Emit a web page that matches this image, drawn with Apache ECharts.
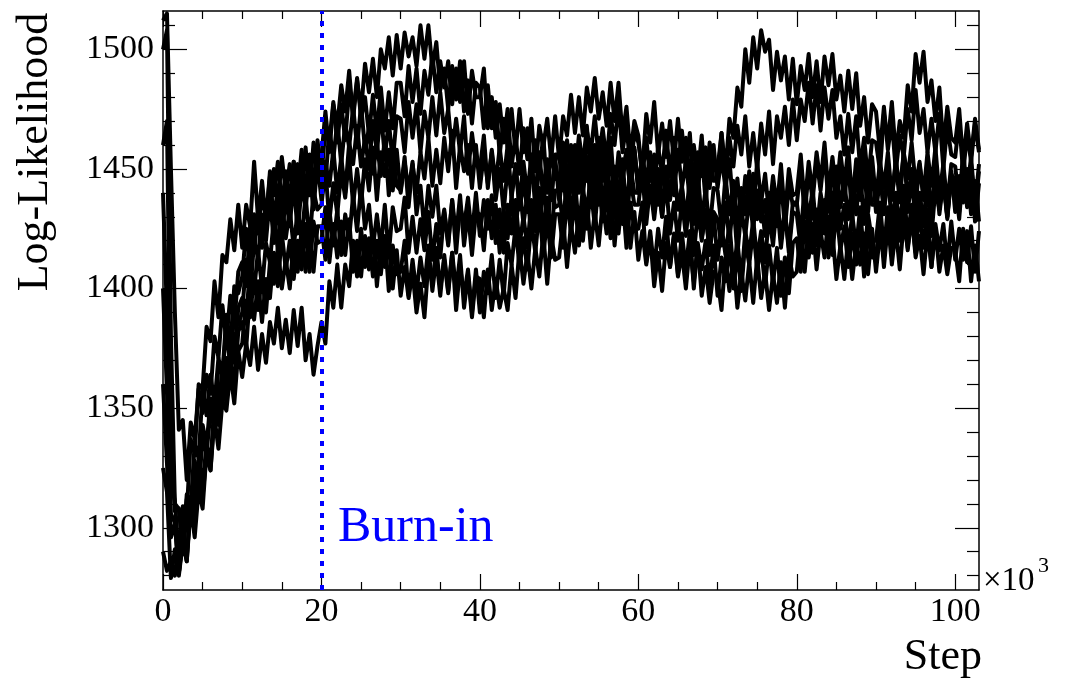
<!DOCTYPE html>
<html>
<head>
<meta charset="utf-8">
<title>Log-Likelihood trace</title>
<script src="https://cdn.jsdelivr.net/npm/echarts@6/dist/echarts.min.js"></script>
<style>
  html, body { margin: 0; padding: 0; background: #fff; }
  #chart { width: 1067px; height: 683px; }
</style>
</head>
<body>
<div id="chart"></div>
<script>
// trace samples every 0.5 x10^3 steps
const stepSize = 0.5
const burnIn = 20

const chain1 = [
  1512, 1515, 1450, 1390, 1341, 1345, 1320, 1344, 1337, 1358, 1348, 1364, 1356, 1380, 1371, 1393, 1378, 1397, 1385, 1407,
  1411, 1401, 1426, 1415, 1433, 1417, 1436, 1429, 1450, 1435, 1455, 1440, 1452, 1436, 1452, 1441, 1459, 1439, 1461, 1453,
  1455, 1474, 1457, 1477, 1468, 1485, 1474, 1491, 1471, 1487, 1474, 1494, 1482, 1496, 1480, 1500, 1492, 1505, 1489, 1506,
  1492, 1507, 1497, 1505, 1493, 1510, 1496, 1510, 1492, 1503, 1483, 1492, 1475, 1493, 1479, 1495, 1474, 1487, 1469, 1486,
  1484, 1467, 1485, 1467, 1478, 1456, 1471, 1459, 1475, 1457, 1475, 1457, 1467, 1448, 1462, 1448, 1464, 1440, 1458, 1446,
  1445, 1461, 1441, 1459, 1447, 1464, 1451, 1468, 1447, 1460, 1445, 1462, 1447, 1463, 1439, 1457, 1447, 1458, 1441, 1458,
  1440, 1454, 1442, 1455, 1435, 1448, 1430, 1449, 1437, 1451, 1433, 1443, 1428, 1447, 1432, 1449, 1428, 1442, 1424, 1442,
  1441, 1426, 1447, 1431, 1445, 1425, 1442, 1431, 1449, 1433, 1453, 1436, 1448, 1431, 1447, 1434, 1452, 1430, 1450, 1439,
  1440, 1456, 1435, 1453, 1440, 1457, 1444, 1461, 1440, 1455, 1440, 1457, 1443, 1459, 1436, 1454, 1444, 1455, 1438, 1455,
  1437, 1453, 1442, 1457, 1438, 1453, 1436, 1457, 1446, 1461, 1443, 1453, 1439, 1457, 1443, 1459, 1439, 1452, 1435, 1452,
  1451, 1436, 1457, 1441, 1455, 1435, 1452
]
const chain2 = [
  1460, 1470, 1344, 1307, 1308, 1292, 1312, 1306, 1328, 1318, 1343, 1334, 1354, 1345, 1368, 1364, 1389, 1375, 1401, 1398,
  1405, 1425, 1409, 1431, 1423, 1440, 1429, 1447, 1428, 1443, 1430, 1449, 1436, 1453, 1431, 1451, 1442, 1456, 1442, 1462,
  1447, 1467, 1461, 1478, 1461, 1477, 1462, 1483, 1473, 1488, 1471, 1480, 1464, 1481, 1465, 1484, 1466, 1482, 1467, 1486,
  1486, 1472, 1493, 1478, 1492, 1473, 1491, 1481, 1498, 1482, 1495, 1484, 1495, 1477, 1492, 1478, 1495, 1473, 1491, 1480,
  1480, 1492, 1467, 1480, 1463, 1477, 1461, 1475, 1451, 1464, 1448, 1467, 1454, 1471, 1449, 1468, 1459, 1471, 1454, 1472,
  1454, 1472, 1464, 1481, 1465, 1480, 1464, 1484, 1474, 1488, 1471, 1482, 1468, 1486, 1470, 1486, 1464, 1476, 1456, 1470,
  1464, 1446, 1463, 1445, 1456, 1435, 1450, 1438, 1455, 1439, 1458, 1442, 1453, 1437, 1452, 1440, 1457, 1436, 1456, 1445,
  1445, 1465, 1449, 1471, 1463, 1484, 1476, 1500, 1486, 1505, 1492, 1508, 1499, 1504, 1483, 1499, 1487, 1497, 1479, 1496,
  1477, 1493, 1483, 1498, 1480, 1495, 1478, 1497, 1485, 1498, 1479, 1489, 1474, 1491, 1475, 1490, 1468, 1480, 1461, 1477,
  1474, 1457, 1476, 1458, 1470, 1449, 1464, 1455, 1475, 1462, 1483, 1465, 1475, 1457, 1471, 1457, 1473, 1450, 1468, 1456,
  1455, 1470, 1448, 1465, 1453, 1469, 1457
]
const chain3 = [
  1325, 1315, 1279, 1291, 1280, 1294, 1286, 1309, 1296, 1316, 1308, 1332, 1324, 1346, 1333, 1353, 1349, 1365, 1352, 1374,
  1363, 1377, 1368, 1384, 1366, 1381, 1369, 1386, 1377, 1392, 1375, 1387, 1373, 1391, 1376, 1392, 1370, 1381, 1364, 1376,
  1386, 1377, 1403, 1392, 1410, 1392, 1410, 1401, 1420, 1405, 1425, 1409, 1421, 1405, 1420, 1406, 1422, 1399, 1418, 1406,
  1407, 1420, 1397, 1412, 1398, 1413, 1401, 1418, 1399, 1413, 1397, 1414, 1399, 1415, 1391, 1409, 1397, 1408, 1390, 1408,
  1390, 1407, 1398, 1414, 1396, 1412, 1397, 1419, 1410, 1426, 1409, 1421, 1408, 1428, 1415, 1433, 1414, 1429, 1413, 1431,
  1431, 1417, 1438, 1423, 1437, 1418, 1435, 1425, 1442, 1426, 1445, 1428, 1439, 1421, 1436, 1423, 1439, 1417, 1436, 1425,
  1425, 1436, 1411, 1424, 1408, 1425, 1413, 1430, 1409, 1422, 1406, 1423, 1408, 1424, 1400, 1419, 1408, 1420, 1402, 1418,
  1397, 1413, 1403, 1418, 1400, 1415, 1399, 1420, 1410, 1425, 1408, 1417, 1401, 1418, 1402, 1417, 1397, 1413, 1398, 1419,
  1421, 1407, 1428, 1413, 1427, 1408, 1424, 1413, 1430, 1414, 1433, 1416, 1426, 1409, 1423, 1410, 1427, 1405, 1424, 1413,
  1413, 1429, 1409, 1427, 1415, 1432, 1420, 1436, 1416, 1430, 1415, 1432, 1417, 1433, 1409, 1427, 1416, 1427, 1410, 1428,
  1412, 1425, 1412, 1424, 1403, 1418, 1403
]
const chain4 = [
  1400, 1357, 1306, 1302, 1281, 1295, 1286, 1313, 1309, 1329, 1318, 1335, 1327, 1352, 1345, 1369, 1356, 1378, 1369, 1392,
  1396, 1386, 1411, 1399, 1416, 1400, 1419, 1411, 1430, 1416, 1437, 1421, 1433, 1417, 1433, 1421, 1439, 1419, 1441, 1433,
  1435, 1450, 1428, 1444, 1431, 1449, 1438, 1455, 1435, 1450, 1435, 1454, 1441, 1459, 1437, 1457, 1447, 1458, 1441, 1458,
  1440, 1453, 1441, 1453, 1431, 1443, 1424, 1443, 1430, 1443, 1423, 1433, 1418, 1437, 1422, 1439, 1418, 1432, 1414, 1432,
  1431, 1416, 1437, 1421, 1435, 1415, 1432, 1421, 1439, 1423, 1443, 1427, 1439, 1423, 1439, 1427, 1445, 1424, 1444, 1434,
  1435, 1450, 1430, 1447, 1435, 1451, 1439, 1455, 1435, 1449, 1435, 1453, 1440, 1457, 1435, 1454, 1445, 1457, 1441, 1459,
  1442, 1456, 1444, 1457, 1437, 1450, 1432, 1451, 1439, 1452, 1433, 1442, 1426, 1443, 1427, 1442, 1420, 1433, 1415, 1432,
  1429, 1418, 1436, 1420, 1437, 1414, 1433, 1422, 1438, 1425, 1441, 1428, 1437, 1424, 1440, 1426, 1446, 1425, 1443, 1435,
  1435, 1451, 1431, 1449, 1437, 1454, 1441, 1457, 1436, 1450, 1435, 1452, 1437, 1453, 1429, 1447, 1437, 1449, 1432, 1450,
  1432, 1446, 1434, 1447, 1427, 1440, 1423, 1443, 1432, 1446, 1428, 1440, 1427, 1446, 1433, 1450, 1431, 1445, 1429, 1447,
  1446, 1432, 1453, 1438, 1452, 1433, 1449
]
const chain5 = [
  1500, 1508, 1380, 1310, 1308, 1291, 1314, 1309, 1335, 1329, 1358, 1347, 1364, 1352, 1371, 1363, 1384, 1367, 1391, 1385,
  1390, 1412, 1397, 1420, 1413, 1431, 1420, 1438, 1419, 1434, 1420, 1439, 1426, 1445, 1423, 1443, 1434, 1448, 1433, 1453,
  1437, 1453, 1443, 1458, 1440, 1455, 1440, 1461, 1452, 1468, 1451, 1463, 1450, 1470, 1457, 1474, 1455, 1470, 1453, 1472,
  1471, 1457, 1478, 1463, 1477, 1457, 1474, 1463, 1480, 1464, 1482, 1465, 1475, 1457, 1471, 1457, 1472, 1448, 1465, 1452,
  1450, 1464, 1442, 1458, 1444, 1459, 1445, 1460, 1438, 1451, 1436, 1453, 1439, 1456, 1433, 1452, 1442, 1454, 1437, 1455,
  1437, 1454, 1444, 1460, 1443, 1459, 1444, 1466, 1457, 1472, 1455, 1467, 1453, 1473, 1460, 1477, 1457, 1469, 1449, 1465,
  1461, 1449, 1473, 1461, 1478, 1456, 1469, 1455, 1470, 1453, 1471, 1453, 1463, 1446, 1460, 1447, 1464, 1442, 1461, 1450,
  1450, 1465, 1445, 1463, 1451, 1468, 1456, 1472, 1451, 1465, 1450, 1469, 1456, 1474, 1452, 1472, 1463, 1476, 1460, 1479,
  1462, 1479, 1470, 1486, 1469, 1485, 1466, 1484, 1471, 1483, 1463, 1472, 1456, 1473, 1457, 1472, 1450, 1463, 1445, 1462,
  1461, 1449, 1473, 1461, 1478, 1456, 1470, 1463, 1485, 1474, 1498, 1486, 1499, 1478, 1487, 1470, 1484, 1459, 1476, 1463,
  1461, 1475, 1453, 1469, 1455, 1471, 1458
]
const chain6 = [
  1360, 1327, 1296, 1302, 1281, 1297, 1288, 1309, 1305, 1325, 1313, 1331, 1324, 1350, 1343, 1366, 1352, 1371, 1359, 1382,
  1386, 1375, 1399, 1387, 1403, 1386, 1404, 1396, 1415, 1401, 1423, 1408, 1420, 1404, 1420, 1408, 1427, 1407, 1428, 1419,
  1420, 1434, 1411, 1427, 1413, 1428, 1414, 1429, 1407, 1420, 1405, 1422, 1408, 1424, 1401, 1419, 1409, 1419, 1400, 1416,
  1397, 1409, 1396, 1407, 1390, 1402, 1388, 1411, 1402, 1417, 1400, 1412, 1398, 1415, 1399, 1414, 1392, 1406, 1388, 1405,
  1404, 1388, 1408, 1391, 1404, 1392, 1400, 1391, 1410, 1396, 1417, 1402, 1415, 1400, 1417, 1405, 1423, 1402, 1422, 1412,
  1413, 1429, 1409, 1427, 1415, 1432, 1420, 1437, 1417, 1432, 1418, 1436, 1423, 1440, 1418, 1437, 1427, 1437, 1417, 1432,
  1412, 1424, 1410, 1422, 1401, 1415, 1399, 1419, 1409, 1423, 1405, 1415, 1400, 1418, 1403, 1418, 1397, 1409, 1394, 1407,
  1404, 1391, 1413, 1399, 1413, 1392, 1407, 1395, 1411, 1394, 1413, 1396, 1407, 1391, 1406, 1394, 1411, 1392, 1414, 1405,
  1407, 1425, 1407, 1426, 1415, 1433, 1421, 1437, 1413, 1423, 1404, 1418, 1404, 1421, 1404, 1419, 1410, 1423, 1406, 1425,
  1407, 1423, 1413, 1428, 1410, 1425, 1408, 1428, 1417, 1431, 1413, 1422, 1406, 1424, 1409, 1425, 1407, 1418, 1406, 1417,
  1416, 1403, 1425, 1411, 1426, 1407, 1424
]
const chain7 = [
  1440, 1390, 1319, 1311, 1288, 1309, 1306, 1337, 1331, 1360, 1358, 1384, 1378, 1403, 1388, 1414, 1411, 1429, 1416, 1435,
  1417, 1435, 1426, 1453, 1429, 1445, 1428, 1449, 1439, 1453, 1436, 1447, 1434, 1453, 1440, 1458, 1439, 1454, 1438, 1457,
  1456, 1444, 1467, 1454, 1470, 1452, 1469, 1459, 1476, 1459, 1477, 1458, 1467, 1448, 1461, 1447, 1463, 1439, 1456, 1443,
  1441, 1455, 1434, 1452, 1440, 1457, 1446, 1463, 1443, 1458, 1444, 1463, 1449, 1466, 1442, 1460, 1449, 1460, 1442, 1460,
  1442, 1456, 1444, 1457, 1437, 1450, 1432, 1451, 1439, 1452, 1433, 1445, 1432, 1452, 1439, 1457, 1438, 1453, 1437, 1456,
  1456, 1441, 1462, 1446, 1460, 1440, 1456, 1445, 1461, 1444, 1463, 1445, 1455, 1437, 1451, 1438, 1454, 1432, 1451, 1440,
  1440, 1456, 1436, 1454, 1442, 1459, 1448, 1466, 1447, 1463, 1450, 1466, 1450, 1465, 1440, 1457, 1447, 1459, 1442, 1460,
  1442, 1455, 1442, 1454, 1433, 1446, 1428, 1447, 1435, 1448, 1429, 1438, 1422, 1440, 1425, 1441, 1420, 1433, 1415, 1432,
  1431, 1417, 1438, 1423, 1437, 1418, 1434, 1423, 1440, 1424, 1443, 1425, 1435, 1417, 1431, 1417, 1434, 1412, 1431, 1420,
  1420, 1436, 1416, 1434, 1422, 1439, 1426, 1442, 1421, 1435, 1420, 1439, 1426, 1444, 1422, 1442, 1433, 1446, 1430, 1449,
  1432, 1447, 1436, 1450, 1431, 1445, 1428
]
const chain8 = [
  1290, 1282, 1286, 1280, 1294, 1289, 1306, 1301, 1322, 1316, 1337, 1331, 1349, 1342, 1360, 1352, 1371, 1362, 1381, 1374,
  1377, 1395, 1388, 1406, 1391, 1406, 1390, 1411, 1402, 1417, 1400, 1412, 1400, 1420, 1407, 1425, 1407, 1422, 1407, 1426,
  1426, 1412, 1433, 1418, 1433, 1414, 1431, 1421, 1439, 1424, 1443, 1425, 1435, 1417, 1431, 1417, 1435, 1414, 1434, 1424,
  1425, 1438, 1415, 1430, 1415, 1429, 1416, 1432, 1412, 1427, 1413, 1432, 1419, 1437, 1415, 1435, 1426, 1438, 1422, 1440,
  1422, 1437, 1425, 1439, 1419, 1433, 1415, 1435, 1423, 1437, 1418, 1430, 1417, 1437, 1424, 1442, 1423, 1438, 1422, 1441,
  1441, 1426, 1447, 1431, 1445, 1425, 1442, 1431, 1449, 1433, 1453, 1436, 1447, 1430, 1445, 1432, 1449, 1427, 1446, 1435,
  1435, 1449, 1427, 1443, 1429, 1444, 1430, 1445, 1423, 1436, 1420, 1437, 1422, 1438, 1414, 1432, 1421, 1432, 1414, 1431,
  1412, 1426, 1414, 1427, 1407, 1420, 1403, 1424, 1414, 1429, 1412, 1424, 1411, 1431, 1418, 1436, 1417, 1432, 1417, 1436,
  1436, 1422, 1443, 1428, 1442, 1423, 1440, 1430, 1447, 1432, 1451, 1434, 1445, 1429, 1444, 1431, 1449, 1427, 1446, 1435,
  1435, 1451, 1431, 1449, 1437, 1454, 1441, 1457, 1436, 1450, 1435, 1452, 1437, 1453, 1429, 1447, 1436, 1447, 1430, 1448,
  1444, 1429, 1450, 1434, 1448, 1428, 1444
]
const chains = [chain1, chain2, chain3, chain4, chain5, chain6, chain7, chain8]

const xMajor = [0, 20, 40, 60, 80, 100]
const xMinor = [5, 10, 15, 25, 30, 35, 45, 50, 55, 65, 70, 75, 85, 90, 95]
const yMajor = [1300, 1350, 1400, 1450, 1500]
const yMinor = [1280, 1290, 1310, 1320, 1330, 1340, 1360, 1370, 1380, 1390,
  1410, 1420, 1430, 1440, 1460, 1470, 1480, 1490, 1510]

const FONT = "'Liberation Serif', 'Times New Roman', serif"
const xRange = { min: 0, max: 103 }
const yRange = { min: 1274, max: 1516 }

const chart = echarts.init(document.getElementById('chart'))

// ROOT style frame: ticks on all four sides, pointing inwards
const tickAxis = (range, position, ticks, len, opts = {}) => ({
  type: 'value',
  position,
  ...range,
  splitLine: { show: false },
  axisLine: { show: !!opts.line, onZero: false, lineStyle: { color: '#000', width: 1.5 } },
  axisTick: { show: true, inside: true, length: len, customValues: ticks, lineStyle: { color: '#000', width: 1.2 } },
  axisLabel: opts.label
    ? { show: true, customValues: ticks, margin: opts.margin, fontSize: 34, fontFamily: FONT, color: '#000',
        formatter: (v) => String(v) }
    : { show: false },
})

// thick strokes so the dense traces merge into a solid band like the original
const series = chains.map((c) => ({
  type: 'line',
  data: c.map((v, i) => [i * stepSize, v]),
  showSymbol: false,
  symbol: 'none',
  silent: true,
  lineStyle: { color: '#000', width: 4, join: 'round' },
}))

series.push({
  type: 'line',
  data: [],
  z: 5,
  markLine: {
    silent: true,
    symbol: ['none', 'none'],
    label: { show: false },
    lineStyle: { color: '#0000ff', width: 4, type: [5, 7], cap: 'butt' },
    data: [{ xAxis: burnIn }],
  },
})

chart.setOption({
  animation: false,
  backgroundColor: '#fff',
  grid: { left: 163, right: 88, top: 11, bottom: 93 },
  xAxis: [
    tickAxis(xRange, 'bottom', xMajor, 16, { line: true, label: true, margin: 5 }),
    tickAxis(xRange, 'bottom', xMinor, 8),
    tickAxis(xRange, 'top', xMajor, 16, { line: true }),
    tickAxis(xRange, 'top', xMinor, 8),
  ],
  yAxis: [
    tickAxis(yRange, 'left', yMajor, 24, { line: true, label: true, margin: 9 }),
    tickAxis(yRange, 'left', yMinor, 12),
    tickAxis(yRange, 'right', yMajor, 24, { line: true }),
    tickAxis(yRange, 'right', yMinor, 12),
  ],
  series,
  graphic: [
    {
      type: 'text', x: 35, y: 152, rotation: Math.PI / 2,
      style: { text: 'Log-Likelihood', fontSize: 44, fontFamily: FONT, fill: '#000',
        align: 'center', verticalAlign: 'middle', textAlign: 'center', textVerticalAlign: 'middle' },
    },
    {
      type: 'text', x: 982, y: 657,
      style: { text: 'Step', fontSize: 44, fontFamily: FONT, fill: '#000',
        align: 'right', verticalAlign: 'middle', textAlign: 'right', textVerticalAlign: 'middle' },
    },
    {
      type: 'text', x: 983, y: 581,
      style: { text: '×10', fontSize: 33, fontFamily: FONT, fill: '#000',
        align: 'left', verticalAlign: 'middle', textAlign: 'left', textVerticalAlign: 'middle' },
    },
    {
      type: 'text', x: 1038, y: 566,
      style: { text: '3', fontSize: 22, fontFamily: FONT, fill: '#000',
        align: 'left', verticalAlign: 'middle', textAlign: 'left', textVerticalAlign: 'middle' },
    },
    {
      type: 'text', x: 338, y: 528,
      style: { text: 'Burn-in', fontSize: 50, fontFamily: FONT, fill: '#0000ff',
        align: 'left', verticalAlign: 'middle', textAlign: 'left', textVerticalAlign: 'middle' },
    },
  ],
})
</script>
</body>
</html>
